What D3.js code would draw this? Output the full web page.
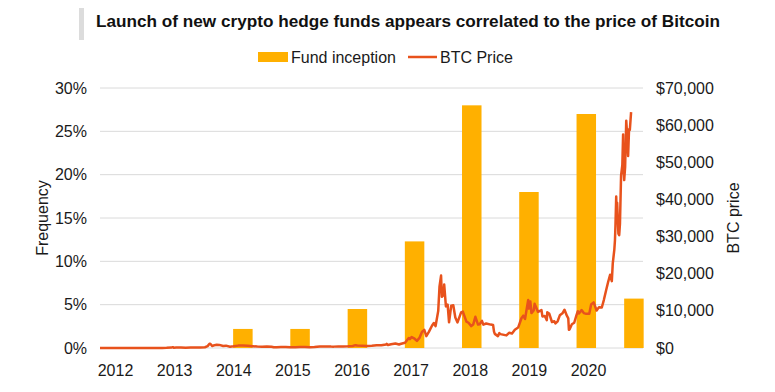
<!DOCTYPE html>
<html lang="en">
<head>
    <meta charset="UTF-8">
    <script src="https://cdn.jsdelivr.net/npm/d3@7/dist/d3.min.js"></script>
    <title>Crypto hedge funds vs Bitcoin</title>
    <style>
        body { margin: 0; background: #fff; }
        text { font-family: "Liberation Sans", Arial, sans-serif; fill: #1a1a1a; }
    </style>
</head>
<body>
    <script>
        var width = 775;
        var height = 392;

        // fund inception share per year (bars), mid-point date of each bar
        var fundYears = [2012, 2013, 2014, 2015, 2016, 2017, 2018, 2019, 2020, 2021];
        var fundDates = ["2012-07-01", "2013-07-01", "2014-07-01", "2015-07-01", "2016-07-01",
            "2017-07-01", "2018-07-01", "2019-07-01", "2020-07-01", "2021-05-01"];
        var fundShare = [0, 0, 2.2, 2.2, 4.5, 12.3, 28.0, 18.0, 27.0, 5.7];

        var tickYears = [2012, 2013, 2014, 2015, 2016, 2017, 2018, 2019, 2020];
        var freqTicks = [0, 5, 10, 15, 20, 25, 30];
        var priceTicks = [0, 10000, 20000, 30000, 40000, 50000, 60000, 70000];

        // BTC price (USD)
        var btcDates = [
            "2012-01-01", "2012-02-01", "2012-03-01", "2012-04-01", "2012-05-01", "2012-06-01", "2012-07-01", "2012-08-01", "2012-08-17", "2012-09-01", "2012-10-01", "2012-11-01", "2012-12-01",
            "2013-01-01", "2013-02-01", "2013-03-01", "2013-04-01", "2013-04-10", "2013-04-16", "2013-05-01", "2013-06-01", "2013-07-01", "2013-08-01", "2013-09-01", "2013-10-01", "2013-11-01", "2013-11-18", "2013-11-30", "2013-12-05", "2013-12-18", "2013-12-31",
            "2014-01-15", "2014-02-01", "2014-02-25", "2014-03-15", "2014-04-10", "2014-05-01", "2014-06-01", "2014-07-01", "2014-08-01", "2014-09-01", "2014-10-01", "2014-11-01", "2014-12-01", "2014-12-31",
            "2015-01-14", "2015-02-01", "2015-03-01", "2015-04-01", "2015-05-01", "2015-06-01", "2015-07-01", "2015-08-01", "2015-09-01", "2015-10-01", "2015-11-04", "2015-12-01", "2015-12-31",
            "2016-01-15", "2016-02-01", "2016-03-01", "2016-04-01", "2016-05-01", "2016-06-01", "2016-06-18", "2016-07-01", "2016-08-01", "2016-09-01", "2016-10-01", "2016-11-01", "2016-12-01", "2016-12-31",
            "2017-01-04", "2017-01-12", "2017-02-01", "2017-03-01", "2017-03-24", "2017-04-01", "2017-05-01", "2017-05-25", "2017-06-01", "2017-06-12", "2017-07-01", "2017-07-16", "2017-08-01", "2017-08-17", "2017-09-01", "2017-09-14", "2017-10-01", "2017-10-20", "2017-11-01", "2017-11-12", "2017-11-29", "2017-12-07", "2017-12-17", "2017-12-22", "2017-12-31",
            "2018-01-06", "2018-01-17", "2018-01-28", "2018-02-06", "2018-02-20", "2018-03-05", "2018-03-18", "2018-04-01", "2018-04-24", "2018-05-05", "2018-05-28", "2018-06-10", "2018-06-28", "2018-07-10", "2018-07-24", "2018-08-10", "2018-08-20", "2018-09-04", "2018-09-13", "2018-10-01", "2018-10-30", "2018-11-14", "2018-11-20", "2018-11-25", "2018-12-15", "2018-12-24", "2018-12-31",
            "2019-01-15", "2019-02-07", "2019-02-24", "2019-03-15", "2019-04-02", "2019-04-23", "2019-05-14", "2019-05-26", "2019-06-06", "2019-06-26", "2019-07-01", "2019-07-10", "2019-07-17", "2019-07-31", "2019-08-06", "2019-08-28", "2019-09-19", "2019-09-25", "2019-10-10", "2019-10-23", "2019-10-26", "2019-11-07", "2019-11-25", "2019-12-10", "2019-12-17", "2019-12-31",
            "2020-01-14", "2020-01-31", "2020-02-13", "2020-02-28", "2020-03-08", "2020-03-12", "2020-03-16", "2020-03-31", "2020-04-15", "2020-04-29", "2020-05-08", "2020-05-15", "2020-06-01", "2020-06-15", "2020-07-01", "2020-07-20", "2020-08-01", "2020-08-17", "2020-09-05", "2020-09-20", "2020-10-08", "2020-10-21", "2020-11-05", "2020-11-17", "2020-11-30", "2020-12-11", "2020-12-17", "2020-12-27", "2020-12-31",
            "2021-01-03", "2021-01-08", "2021-01-11", "2021-01-14", "2021-01-22", "2021-01-27", "2021-02-01", "2021-02-08", "2021-02-16", "2021-02-21", "2021-02-23", "2021-02-28", "2021-03-06", "2021-03-13", "2021-03-18", "2021-03-25", "2021-03-31", "2021-04-05", "2021-04-13"
        ];
        var btcPrice = [
            5.3, 5.9, 4.9, 4.9, 5.0, 5.3, 6.7, 9.4, 13.5, 10.2, 12.4, 10.9, 12.6,
            13.3, 20.4, 34.5, 104, 230, 68, 116, 129, 88, 107, 146, 132, 206, 500, 1130, 1150, 520, 754,
            860, 830, 530, 630, 360, 450, 640, 640, 590, 480, 380, 330, 380, 320,
            180, 230, 255, 245, 235, 225, 260, 285, 230, 240, 410, 378, 430,
            390, 370, 435, 416, 450, 535, 760, 675, 610, 570, 610, 730, 750, 965,
            1130, 790, 990, 1220, 940, 1080, 1420, 2700, 2400, 2950, 2500, 1930, 2720, 4300, 4900, 3200, 4400, 6000, 6740, 5900, 10000, 16500, 19500, 13800, 14150,
            17100, 11200, 11700, 6900, 11400, 11500, 8200, 6900, 9600, 9800, 7100, 6800, 5900, 6300, 8400, 6300, 6400, 7300, 6300, 6600, 6300, 6200, 4400, 3800, 3200, 4000, 3740,
            3600, 3400, 4100, 3900, 4900, 5500, 8000, 8700, 7800, 12900, 10600, 12500, 9400, 10100, 11900, 9700, 10200, 8500, 8600, 7500, 9600, 9300, 7000, 7200, 6600, 7200,
            8800, 9350, 10300, 8700, 8000, 4900, 5000, 6400, 6800, 8800, 9900, 9300, 10200, 9400, 9200, 9200, 11700, 12300, 10100, 11000, 10900, 12900, 15600, 17700, 19700, 18000, 22800, 26500, 29000,
            32700, 40800, 35500, 39100, 30800, 30400, 33500, 46400, 49200, 57500, 48900, 45200, 48800, 61200, 58000, 51700, 58900, 58700, 63500
        ];

        var parse = d3.timeParse("%Y-%m-%d");
        var btc = btcDates.map(function (d, i) { return { date: parse(d), price: btcPrice[i] }; });
        var funds = fundYears.map(function (y, i) { return { year: y, date: parse(fundDates[i]), share: fundShare[i] }; });

        var plotLeft = 100, plotRight = 643, plotTop = 88, plotBottom = 348;

        var x = d3.scaleTime().domain([parse("2012-01-01"), parse("2021-06-28")]).range([plotLeft, plotRight]);
        var yFreq = d3.scaleLinear().domain([0, 30]).range([plotBottom, plotTop]);
        var yPrice = d3.scaleLinear().domain([0, 70000]).range([plotBottom, plotTop]);
        var xLabels = d3.scalePoint().domain(tickYears).range([115, 588]);

        var svg = d3.select("body").append("svg").attr("width", width).attr("height", height);

        // title with grey marker
        svg.append("rect").attr("x", 79).attr("y", 8).attr("width", 5).attr("height", 32).style("fill", "#dcdcdc");
        svg.append("text").attr("x", 96).attr("y", 27)
            .attr("textLength", 624).attr("lengthAdjust", "spacingAndGlyphs")
            .style("font-size", "17px").style("font-weight", "bold").style("fill", "#111")
            .text("Launch of new crypto hedge funds appears correlated to the price of Bitcoin");

        // legend
        var legend = svg.append("g").style("font-size", "16px");
        legend.append("rect").attr("x", 258).attr("y", 52).attr("width", 30).attr("height", 10).style("fill", "#ffb000");
        legend.append("text").attr("x", 291).attr("y", 63).text("Fund inception");
        legend.append("line").attr("x1", 408).attr("x2", 437).attr("y1", 57).attr("y2", 57)
            .style("stroke", "#e8521c").style("stroke-width", 2.5);
        legend.append("text").attr("x", 440).attr("y", 63).text("BTC Price");

        // gridlines
        svg.append("g").selectAll("line").data(freqTicks).enter().append("line")
            .attr("x1", plotLeft).attr("x2", plotRight)
            .attr("y1", function (d) { return yFreq(d); }).attr("y2", function (d) { return yFreq(d); })
            .style("stroke", "#dadada").style("stroke-width", 1);

        // left axis
        var gl = svg.append("g").attr("transform", "translate(87,0)")
            .call(d3.axisLeft(yFreq).tickValues(freqTicks).tickSize(0).tickPadding(0)
                .tickFormat(function (d) { return d + "%"; }));
        gl.select(".domain").remove();
        gl.selectAll("text").style("font-size", "16px").style("font-family", null).style("fill", "#1a1a1a");

        // right axis
        var gr = svg.append("g").attr("transform", "translate(656,0)")
            .call(d3.axisRight(yPrice).tickValues(priceTicks).tickSize(0).tickPadding(0)
                .tickFormat(function (d) { return "$" + d3.format(",")(d); }));
        gr.select(".domain").remove();
        gr.selectAll("text").style("font-size", "16px").style("font-family", null).style("fill", "#1a1a1a");

        // x axis labels
        var gx = svg.append("g").attr("transform", "translate(0,365)")
            .call(d3.axisBottom(xLabels).tickSize(0).tickPadding(0));
        gx.select(".domain").remove();
        gx.selectAll("text").style("font-size", "16px").style("font-family", null).style("fill", "#1a1a1a");

        // axis titles
        svg.append("text").attr("transform", "translate(48,218) rotate(-90)")
            .attr("text-anchor", "middle").style("font-size", "16px").text("Frequency");
        svg.append("text").attr("transform", "translate(739,218) rotate(-90)")
            .attr("text-anchor", "middle").style("font-size", "16px").text("BTC price");

        // bars
        var barW = (x(parse("2013-01-01")) - x(parse("2012-01-01"))) * 0.34;
        svg.append("g").selectAll("rect").data(funds.filter(function (d) { return d.share > 0; })).enter().append("rect")
            .attr("x", function (d) { return x(d.date) - barW / 2; })
            .attr("y", function (d) { return yFreq(d.share); })
            .attr("width", barW)
            .attr("height", function (d) { return yFreq(0) - yFreq(d.share); })
            .style("fill", "#ffb000");

        // BTC line
        var line = d3.line()
            .x(function (d) { return x(d.date); })
            .y(function (d) { return yPrice(d.price); });
        svg.append("path").datum(btc).attr("d", line)
            .style("fill", "none").style("stroke", "#e8521c").style("stroke-width", 2.5)
            .style("stroke-linejoin", "round");
    </script>
</body>
</html>
